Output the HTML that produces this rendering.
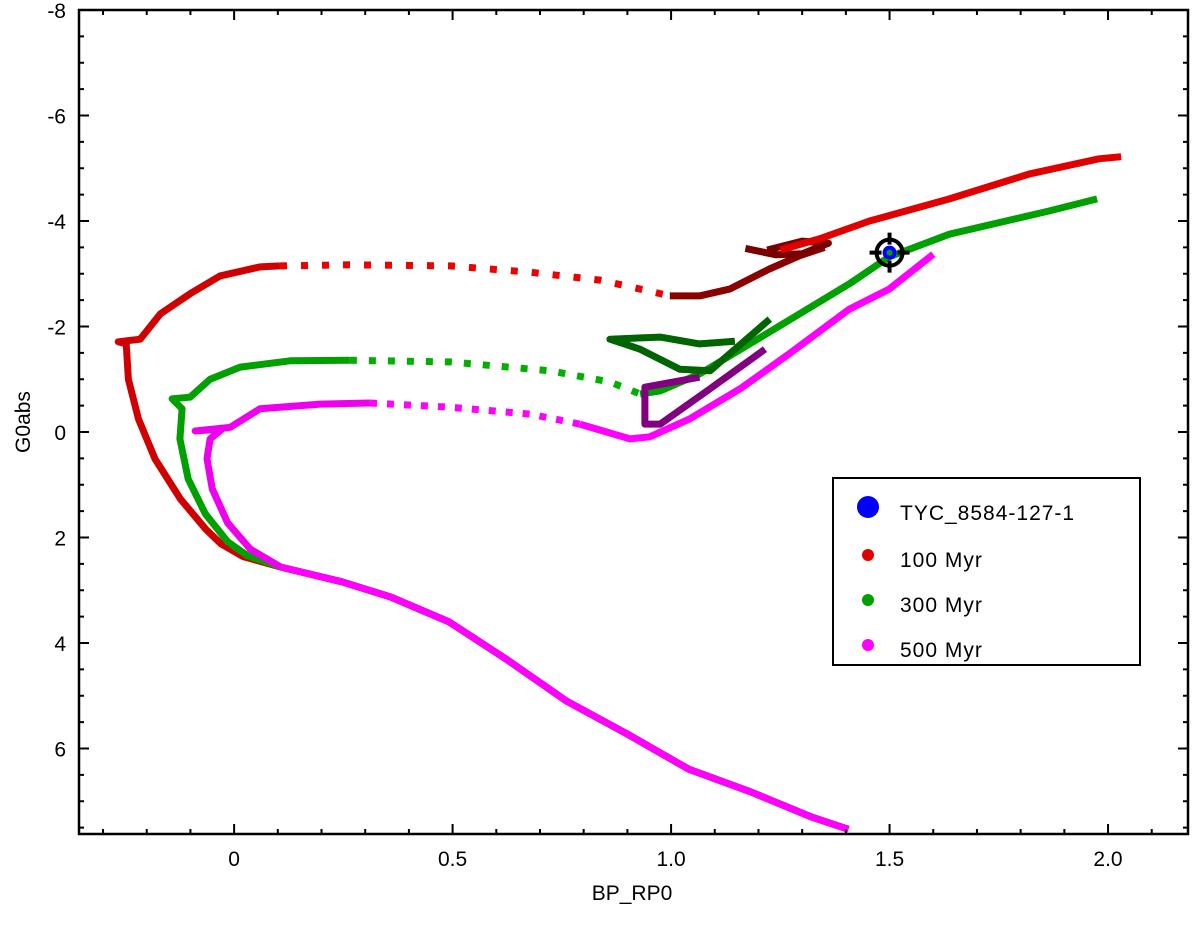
<!DOCTYPE html>
<html><head><meta charset="utf-8">
<style>
html,body{margin:0;padding:0;background:#fff;}
svg{display:block;font-family:"Liberation Sans",Arial,sans-serif;}
</style></head>
<body>
<svg id="chart" width="1200" height="925" viewBox="0 0 1200 925" xmlns="http://www.w3.org/2000/svg">
  <g id="marks"></g>
  <g id="axes"></g>
  <text x="632" y="900" font-size="21" text-anchor="middle">BP_RP0</text>
  <text transform="translate(30,422) rotate(-90)" font-size="21" text-anchor="middle">G0abs</text>
  <g>
    <rect x="833" y="478" width="307" height="187" fill="#fff" stroke="#000" stroke-width="2"/>
    <circle cx="868" cy="507" r="11" fill="#0000ff"/>
    <text x="900" y="520" font-size="21" letter-spacing="1">TYC_8584-127-1</text>
    <circle cx="868" cy="555" r="6" fill="#e00000"/>
    <text x="900" y="567" font-size="21" letter-spacing="1">100 Myr</text>
    <circle cx="868" cy="600" r="6" fill="#00a000"/>
    <text x="900" y="612" font-size="21" letter-spacing="1">300 Myr</text>
    <circle cx="868" cy="645" r="6" fill="#ff00ff"/>
    <text x="900" y="657" font-size="21" letter-spacing="1">500 Myr</text>
  </g>
</svg>
<script>
// ---- data ----
const xTicks = [0, 0.5, 1.0, 1.5, 2.0];
const xTickLabels = ["0", "0.5", "1.0", "1.5", "2.0"];
const yTicks = [-8, -6, -4, -2, 0, 2, 4, 6];
const yTickLabels = ["-8", "-6", "-4", "-2", "0", "2", "4", "6"];

const msBp = [1.406, 1.322, 1.182, 1.040, 0.901, 0.761, 0.622, 0.492, 0.359, 0.247, 0.107];
const msG  = [7.53, 7.30, 6.82, 6.39, 5.73, 5.10, 4.30, 3.60, 3.13, 2.84, 2.56];

const r100Bp = [0.107, 0.020, -0.030, -0.065, -0.123, -0.181, -0.219, -0.242, -0.247, -0.265, -0.215, -0.169, -0.101, -0.032, 0.059, 0.105];
const r100G  = [2.56, 2.36, 2.12, 1.84, 1.27, 0.51, -0.25, -1.00, -1.67, -1.71, -1.76, -2.24, -2.62, -2.96, -3.13, -3.15];
const r100DotBp = [0.105, 0.265, 0.494, 0.677, 0.837, 0.951, 0.997];
const r100DotG  = [-3.15, -3.17, -3.15, -3.03, -2.88, -2.67, -2.58];
const r100GiantBp = [0.997, 1.065, 1.134, 1.225, 1.294, 1.351];
const r100GiantG  = [-2.58, -2.58, -2.71, -3.09, -3.34, -3.50];
const r100LoopBp = [1.17, 1.24, 1.30, 1.36, 1.30, 1.22];
const r100LoopG  = [-3.48, -3.36, -3.38, -3.58, -3.62, -3.45];
const r100UpBp = [1.25, 1.339, 1.454, 1.637, 1.819, 1.979, 2.03];
const r100UpG  = [-3.45, -3.66, -4.00, -4.42, -4.89, -5.18, -5.22];

const g300Bp = [0.107, 0.030, -0.015, -0.066, -0.105, -0.124, -0.119, -0.142, -0.101, -0.055, 0.014, 0.128, 0.265];
const g300G  = [2.56, 2.34, 2.08, 1.55, 0.89, 0.13, -0.44, -0.63, -0.66, -1.00, -1.23, -1.35, -1.36];
const g300DotBp = [0.265, 0.494, 0.723, 0.860, 0.929];
const g300DotG  = [-1.36, -1.33, -1.16, -0.95, -0.72];
const g300GiantBp = [0.929, 0.975, 1.065, 1.18, 1.294, 1.408, 1.499, 1.637, 1.865, 1.975];
const g300GiantG  = [-0.72, -0.78, -1.10, -1.67, -2.24, -2.81, -3.32, -3.75, -4.19, -4.42];
const g300LoopBp = [1.146, 1.065, 0.975, 0.860, 0.929, 1.02, 1.089, 1.226];
const g300LoopG  = [-1.72, -1.67, -1.80, -1.76, -1.57, -1.19, -1.16, -2.14];

const m500Bp = [0.107, 0.037, -0.015, -0.050, -0.062, -0.055, -0.027, -0.089, -0.009, 0.059, 0.197, 0.311];
const m500G  = [2.56, 2.22, 1.72, 1.08, 0.51, 0.13, -0.06, -0.02, -0.09, -0.44, -0.53, -0.55];
const m500DotBp = [0.311, 0.494, 0.677, 0.791];
const m500DotG  = [-0.55, -0.47, -0.34, -0.15];
const m500GiantBp = [0.791, 0.906, 0.951, 1.043, 1.158, 1.27, 1.408, 1.499, 1.60];
const m500GiantG  = [-0.15, 0.13, 0.09, -0.25, -0.82, -1.48, -2.33, -2.71, -3.37];
const m500LoopBp = [1.065, 0.94, 0.94, 0.975, 1.089, 1.215];
const m500LoopG  = [-1.04, -0.85, -0.15, -0.15, -0.82, -1.57];

const starBp = [1.50];
const starG  = [-3.40];

// ---- axes ----
const X0 = 79, X1 = 1188, Y0 = 10, Y1 = 834;
const xMin = -0.355, xMax = 2.183, yMin = -8.0, yMax = 7.62;
const sx = v => X0 + (v - xMin) / (xMax - xMin) * (X1 - X0);
const sy = v => Y0 + (v - yMin) / (yMax - yMin) * (Y1 - Y0);
const NS = "http://www.w3.org/2000/svg";
const marks = document.getElementById('marks');
const axes = document.getElementById('axes');
function mk(tag, attrs, parent) {
  const e = document.createElementNS(NS, tag);
  for (const k in attrs) e.setAttribute(k, attrs[k]);
  parent.appendChild(e);
  return e;
}
function line(xs, ys, color, name, dash) {
  const pts = xs.map((v, i) => sx(v).toFixed(1) + "," + sy(ys[i]).toFixed(1)).join(" ");
  const p = mk('polyline', {points: pts, fill: 'none', stroke: color, 'stroke-width': 7, 'stroke-linejoin': 'round'}, marks);
  if (dash) p.setAttribute('stroke-dasharray', dash);
  
  
}
line(msBp, msG, '#e00000', 'main-sequence-100');
line(r100Bp, r100G, '#d00000', 'isochrone-100-turnoff');
line(r100DotBp, r100DotG, '#ee0000', 'isochrone-100-gap', '7 14');
line(r100GiantBp, r100GiantG, '#8b0000', 'isochrone-100-giant');
line(r100LoopBp, r100LoopG, '#7a0000', 'isochrone-100-loop');
line(r100UpBp, r100UpG, '#e00000', 'isochrone-100-upper');

line(msBp, msG, '#00a000', 'main-sequence-300');
line(g300Bp, g300G, '#00a000', 'isochrone-300-turnoff');
line(g300DotBp, g300DotG, '#00b000', 'isochrone-300-gap', '7 12');
line(g300GiantBp, g300GiantG, '#00a000', 'isochrone-300-giant');
line(g300LoopBp, g300LoopG, '#006400', 'isochrone-300-loop');

line(msBp, msG, '#ff00ff', 'main-sequence-500');
line(m500Bp, m500G, '#ee00ee', 'isochrone-500-turnoff');
line(m500DotBp, m500DotG, '#ff00ff', 'isochrone-500-gap', '7 10');
line(m500GiantBp, m500GiantG, '#ff00ff', 'isochrone-500-giant');
line(m500LoopBp, m500LoopG, '#800080', 'isochrone-500-loop');

// star target
starBp.forEach((v, i) => {
  const cx = sx(v), cy = sy(starG[i]);
  const g = mk('g', {}, marks);
  
  
  mk('circle', {cx: cx, cy: cy, r: 7, fill: '#0000ff'}, g);
  mk('circle', {cx: cx, cy: cy, r: 3, fill: '#00a000'}, g);
  mk('circle', {cx: cx, cy: cy, r: 13, fill: 'none', stroke: '#000', 'stroke-width': 4}, g);
  mk('path', {d: `M${cx-20},${cy}h12M${cx+8},${cy}h12M${cx},${cy-20}v12M${cx},${cy+8}v12`, stroke: '#000', 'stroke-width': 4}, g);
});

// frame and ticks
const fr = mk('rect', {x: X0, y: Y0, width: X1 - X0, height: Y1 - Y0, fill: 'none', stroke: '#000', 'stroke-width': 2.5}, axes);


let d = '';
for (let v = -0.3; v <= 2.15; v += 0.1) {
  const px = sx(Math.round(v * 10) / 10);
  const major = Math.abs(Math.round(v * 2) - v * 2) < 1e-6;
  const L = major ? 10 : 5;
  d += `M${px},${Y1}v${-L}M${px},${Y0}v${L}`;
}
for (let v = -7.5; v <= 7.5; v += 0.5) {
  const py = sy(v);
  const major = Math.abs(v % 2) < 1e-6;
  const L = major ? 10 : 5;
  d += `M${X0},${py}h${L}M${X1},${py}h${-L}`;
}
const tk = mk('path', {d: d, stroke: '#000', 'stroke-width': 2, fill: 'none'}, axes);


xTicks.forEach((v, i) => {
  const t = mk('text', {x: sx(v), y: 866, 'font-size': 21, 'text-anchor': 'middle'}, axes);
  t.textContent = xTickLabels[i];
  
  
});
yTicks.forEach((v, i) => {
  const t = mk('text', {x: 66, y: sy(v) + 8, 'font-size': 21, 'text-anchor': 'end'}, axes);
  t.textContent = yTickLabels[i];
  
  
});
</script>
</body></html>
